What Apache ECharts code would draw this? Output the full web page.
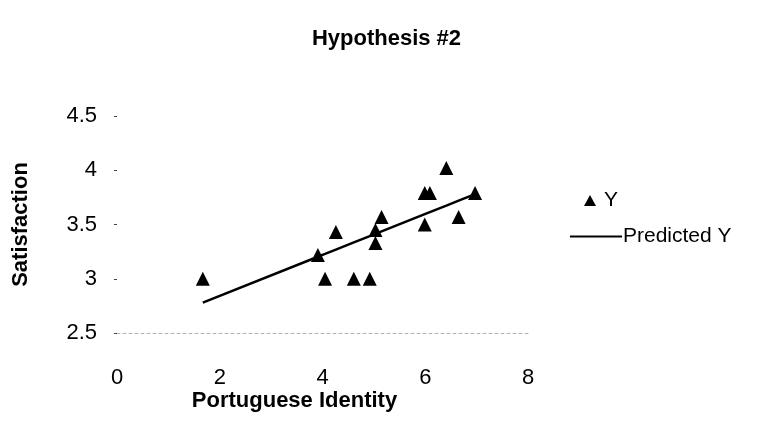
<!DOCTYPE html>
<html>
<head>
<meta charset="utf-8">
<script src="https://cdn.jsdelivr.net/npm/echarts@6/dist/echarts.min.js"></script>
<style>
  html, body { margin: 0; padding: 0; background: #fff; }
  #chart { width: 773px; height: 438px; }
</style>
</head>
<body>
<div id="chart"></div>
<script>
// observed points (Portuguese Identity, Satisfaction)
var identity = [1.67, 3.91, 4.05, 4.26, 4.61, 4.92, 5.03, 5.03, 5.15, 5.99, 5.99, 6.09, 6.41, 6.65, 6.97];
var satisfaction = [3.0, 3.22, 3.0, 3.43, 3.0, 3.0, 3.45, 3.33, 3.57, 3.79, 3.5, 3.79, 4.02, 3.57, 3.79];
// predicted Y
var predicted = [2.780, 3.203, 3.229, 3.269, 3.335, 3.393, 3.414, 3.414, 3.437, 3.595, 3.595, 3.614, 3.674, 3.720, 3.780];

var xTicks = [0, 2, 4, 6, 8];
var yTicks = [2.5, 3, 3.5, 4, 4.5];

var chart = echarts.init(document.getElementById('chart'));
var font = 'Liberation Sans, Arial, sans-serif';

var option = {
    backgroundColor: '#fff',
    animation: false,
    title: {
        text: 'Hypothesis #2',
        left: 'center',
        top: 23,
        textStyle: { fontFamily: font, fontSize: 22, fontWeight: 'bold', color: '#000' }
    },
    legend: [
        {
            data: ['Y'],
            left: 579,
            top: 185,
            icon: 'triangle',
            itemWidth: 12,
            itemHeight: 11,
            textStyle: { fontFamily: font, fontSize: 21, color: '#000', padding: [0, 0, 0, 3] }
        },
        {
            data: ['Predicted Y'],
            left: 565,
            top: 221,
            icon: 'rect',
            itemWidth: 52,
            itemHeight: 2,
            itemStyle: { color: '#000' },
            textStyle: { fontFamily: font, fontSize: 21, color: '#000', padding: [0, 0, 0, -4] }
        }
    ],
    grid: { left: 117, right: 245, top: 116, bottom: 105 },
    xAxis: {
        type: 'value',
        min: 0,
        max: 8,
        interval: 2,
        name: 'Portuguese Identity',
        nameLocation: 'middle',
        nameGap: 57,
        nameTextStyle: { fontFamily: font, fontSize: 22, fontWeight: 'bold', color: '#000', padding: [0, 56, 0, 0] },
        axisLine: { show: true, onZero: false, lineStyle: { color: '#b5b5b5', type: [3, 3], width: 1 } },
        axisTick: { show: false },
        splitLine: { show: false },
        axisLabel: {
            margin: 34,
            fontFamily: font, fontSize: 22, color: '#000',
            formatter: function (v) { return xTicks.indexOf(v) >= 0 ? String(v) : ''; }
        }
    },
    yAxis: {
        type: 'value',
        min: 2.5,
        max: 4.5,
        interval: 0.5,
        name: 'Satisfaction',
        nameLocation: 'middle',
        nameGap: 85,
        nameTextStyle: { fontFamily: font, fontSize: 22, fontWeight: 'bold', color: '#000' },
        axisLine: { show: false },
        axisTick: { show: true, length: 3, lineStyle: { color: '#444' } },
        splitLine: { show: false },
        axisLabel: {
            margin: 20,
            fontFamily: font, fontSize: 22, color: '#000',
            formatter: function (v) { return yTicks.indexOf(v) >= 0 ? String(v) : ''; }
        }
    },
    series: [
        {
            name: 'Y',
            type: 'scatter',
            symbol: 'triangle',
            symbolSize: 14,
            itemStyle: { color: '#000', opacity: 1 },
            data: identity.map(function (x, i) { return [x, satisfaction[i]]; }),
            z: 3
        },
        {
            name: 'Predicted Y',
            type: 'line',
            showSymbol: false,
            symbol: 'none',
            lineStyle: { color: '#000', width: 2.5 },
            itemStyle: { color: '#000' },
            data: identity.map(function (x, i) { return [x, predicted[i]]; }),
            z: 2
        }
    ]
};

chart.setOption(option);
</script>
</body>
</html>
